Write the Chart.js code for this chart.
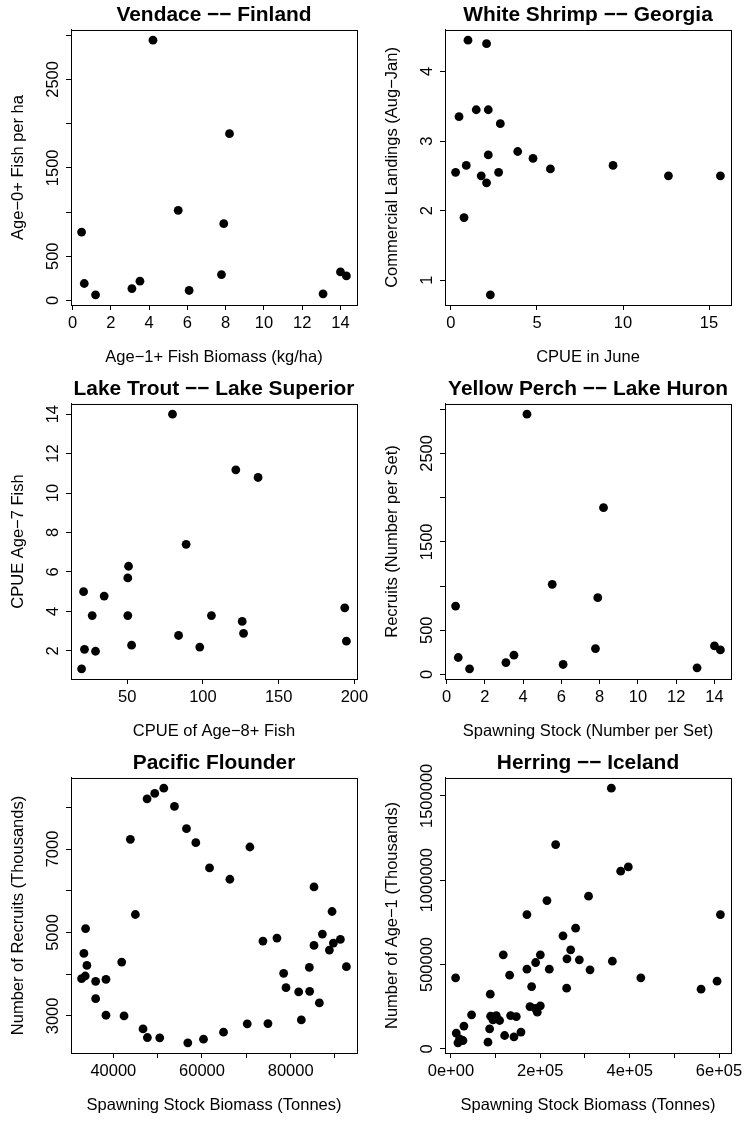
<!DOCTYPE html>
<html>
<head>
<meta charset="utf-8">
<script src="https://cdn.jsdelivr.net/npm/chart.js@4.4.0/dist/chart.umd.min.js"></script>
<style>
  html, body { margin: 0; padding: 0; background: #fff; }
  #page { position: relative; width: 747px; height: 1122px; }
  .cell { position: absolute; }
</style>
</head>
<body>
<div id="page"></div>
<script>
const MINUS = '\u2212'

// Vendace -- Finland
const vendaceBiomass = [0.47, 0.61, 1.2, 3.1, 3.52, 4.2, 5.52, 6.09, 7.78, 7.9, 8.2, 13.09, 14.0, 14.31]
const vendaceAge0 = [774, 192, 64, 135, 218, 2944, 1019, 113, 293, 868, 1887, 75, 323, 278]
const vendaceXTicks = [0, 2, 4, 6, 8, 10, 12, 14]
const vendaceXLabels = ['0', '2', '4', '6', '8', '10', '12', '14']
const vendaceYTicks = [0, 500, 1000, 1500, 2000, 2500, 3000]
const vendaceYLabels = ['0', '500', '', '1500', '', '2500', '']

// White Shrimp -- Georgia
const shrimpCpue = [0.27, 0.47, 0.99, 0.76, 0.89, 1.47, 1.76, 2.07, 2.07, 2.17, 2.17, 2.29, 2.77, 2.87, 3.88, 4.77, 5.78, 9.42, 12.64, 15.66]
const shrimpLandings = [2.55, 3.35, 4.45, 1.90, 2.65, 3.45, 2.50, 4.40, 2.40, 3.45, 2.80, 0.79, 2.55, 3.25, 2.85, 2.75, 2.60, 2.65, 2.50, 2.50]
const shrimpXTicks = [0, 5, 10, 15]
const shrimpXLabels = ['0', '5', '10', '15']
const shrimpYTicks = [1, 2, 3, 4]
const shrimpYLabels = ['1', '2', '3', '4']

// Lake Trout -- Lake Superior
const troutAge8 = [19.9, 21.2, 21.8, 26.9, 29.1, 34.8, 50.4, 50.4, 50.9, 52.9, 79.9, 83.9, 88.9, 97.9, 105.6, 121.7, 125.9, 126.8, 136.4, 193.6, 194.7]
const troutAge7 = [1.09, 5.0, 2.08, 3.79, 1.98, 4.78, 3.79, 5.70, 6.29, 2.29, 14.0, 2.78, 7.40, 2.19, 3.79, 11.18, 3.49, 2.89, 10.79, 4.18, 2.49]
const troutXTicks = [50, 100, 150, 200]
const troutXLabels = ['50', '100', '150', '200']
const troutYTicks = [2, 4, 6, 8, 10, 12, 14]
const troutYLabels = ['2', '4', '6', '8', '10', '12', '14']

// Yellow Perch -- Lake Huron
const perchStock = [0.47, 0.61, 1.2, 3.1, 3.52, 4.2, 5.52, 6.09, 7.78, 7.9, 8.2, 13.09, 14.0, 14.31]
const perchRecruits = [774, 192, 64, 135, 218, 2944, 1019, 113, 293, 868, 1887, 75, 323, 278]
const perchXTicks = [0, 2, 4, 6, 8, 10, 12, 14]
const perchXLabels = ['0', '2', '4', '6', '8', '10', '12', '14']
const perchYTicks = [0, 500, 1000, 1500, 2000, 2500, 3000]
const perchYLabels = ['0', '500', '', '1500', '', '2500', '']

// Pacific Flounder
const flounderSsb = [32840, 33660, 33360, 34040, 33740, 36010, 36010, 38340, 38340, 41890, 42420, 43840, 44970, 46700, 47610, 47680,
  49340, 50470, 51380, 53790, 56500, 56800, 58610, 60340, 61700, 64860, 66290, 70210, 70810, 73750, 74880, 76910,
  78420, 78950, 81810, 82410, 84220, 84290, 85270, 85270, 86480, 87160, 88740, 89340, 89640, 91220, 92580]
const flounderRecruits = [3892, 3956, 4497, 4210, 5094, 3828, 3414, 3876, 3016, 4291, 3000, 7231, 5430, 2689, 8203, 2482,
  8331, 2474, 8458, 8020, 7486, 2355, 7151, 2442, 6546, 2610, 6275, 2809, 7048, 4793, 2817, 4865,
  4020, 3677, 3574, 2904, 4163, 3590, 4689, 6092, 3311, 4960, 4578, 5502, 4745, 4833, 4179]
const flounderXTicks = [40000, 50000, 60000, 70000, 80000, 90000]
const flounderXLabels = ['40000', '', '60000', '', '80000', '']
const flounderYTicks = [3000, 4000, 5000, 6000, 7000, 8000]
const flounderYLabels = ['3000', '', '5000', '', '7000', '']

// Herring -- Iceland
const herringSsb = [10450, 11900, 15700, 19400, 26900, 29100, 46200, 82900, 86600, 88100, 88800, 94000, 101500, 109000, 117200, 120200,
  131400, 133600, 141100, 146300, 156800, 170100, 170100, 176900, 180600, 189000, 189600, 193300, 200100, 200100, 214900, 220200,
  234400, 250800, 259000, 259700, 268000, 279100, 287400, 308000, 311300, 359000, 361300, 379900, 397000, 425000, 559800, 595600, 603100]
const herringAge1 = [420900, 93100, 35600, 59300, 49200, 134600, 201600, 39500, 118600, 324300, 193800, 172000, 197400, 168000, 557300, 78900,
  436800, 197400, 71100, 191500, 99000, 796300, 472400, 250800, 369400, 240000, 511800, 217600, 254900, 557300, 879300, 472400,
  1211300, 670000, 359800, 533600, 587000, 715600, 527700, 905000, 468300, 1545800, 519900, 1053600, 1079000, 420900, 353700, 401300, 796300]
const herringXTicks = [0, 100000, 200000, 300000, 400000, 500000, 600000]
const herringXLabels = ['0e+00', '', '2e+05', '', '4e+05', '', '6e+05']
const herringYTicks = [0, 500000, 1000000, 1500000]
const herringYLabels = ['0', '500000', '1000000', '1500000']

const panels = [
  { title: 'Vendace ' + MINUS + MINUS + ' Finland', xTitle: 'Age' + MINUS + '1+ Fish Biomass (kg/ha)', yTitle: 'Age' + MINUS + '0+ Fish per ha',
    x: vendaceBiomass, y: vendaceAge0, xTicks: vendaceXTicks, xLabels: vendaceXLabels, yTicks: vendaceYTicks, yLabels: vendaceYLabels },
  { title: 'White Shrimp ' + MINUS + MINUS + ' Georgia', xTitle: 'CPUE in June', yTitle: 'Commercial Landings (Aug' + MINUS + 'Jan)',
    x: shrimpCpue, y: shrimpLandings, xTicks: shrimpXTicks, xLabels: shrimpXLabels, yTicks: shrimpYTicks, yLabels: shrimpYLabels },
  { title: 'Lake Trout ' + MINUS + MINUS + ' Lake Superior', xTitle: 'CPUE of Age' + MINUS + '8+ Fish', yTitle: 'CPUE Age' + MINUS + '7 Fish',
    x: troutAge8, y: troutAge7, xTicks: troutXTicks, xLabels: troutXLabels, yTicks: troutYTicks, yLabels: troutYLabels },
  { title: 'Yellow Perch ' + MINUS + MINUS + ' Lake Huron', xTitle: 'Spawning Stock (Number per Set)', yTitle: 'Recruits (Number per Set)',
    x: perchStock, y: perchRecruits, xTicks: perchXTicks, xLabels: perchXLabels, yTicks: perchYTicks, yLabels: perchYLabels },
  { title: 'Pacific Flounder', xTitle: 'Spawning Stock Biomass (Tonnes)', yTitle: 'Number of Recruits (Thousands)',
    x: flounderSsb, y: flounderRecruits, xTicks: flounderXTicks, xLabels: flounderXLabels, yTicks: flounderYTicks, yLabels: flounderYLabels },
  { title: 'Herring ' + MINUS + MINUS + ' Iceland', xTitle: 'Spawning Stock Biomass (Tonnes)', yTitle: 'Number of Age' + MINUS + '1 (Thousands)',
    x: herringSsb, y: herringAge1, xTicks: herringXTicks, xLabels: herringXLabels, yTicks: herringYTicks, yLabels: herringYLabels }
]

const FONT = '"Liberation Sans", Arial, Helvetica, sans-serif'
Chart.defaults.font.family = FONT
Chart.defaults.color = '#000'

// R pads the data range by 4% on each side
function rRange(v) {
  const lo = Math.min(...v), hi = Math.max(...v), d = (hi - lo) * 0.04
  return [lo - d, hi + d]
}

const page = document.getElementById('page')

panels.forEach((p, i) => {
  const col = i % 2, row = Math.floor(i / 2)
  const w = col === 0 ? 374 : 373
  const cell = document.createElement('div')
  cell.className = 'cell'
  cell.style.left = (col * 374) + 'px'
  cell.style.top = (row * 374) + 'px'
  const canvas = document.createElement('canvas')
  canvas.width = w
  canvas.height = 374
  canvas.style.width = w + 'px'
  canvas.style.height = '374px'
  cell.append(canvas)
  page.append(cell)

  const xr = rRange(p.x), yr = rRange(p.y)

  // box round the plot and rotated y tick labels, like base R
  const rFrame = {
    id: 'rFrame',
    afterDraw(chart) {
      const ctx = chart.ctx, ca = chart.chartArea, s = chart.scales.y
      ctx.save()
      ctx.strokeStyle = '#000'
      ctx.lineWidth = 1
      ctx.strokeRect(ca.left + 0.5, ca.top + 0.5, ca.right - ca.left, ca.bottom - ca.top)
      ctx.fillStyle = '#000'
      ctx.font = '16.5px ' + FONT
      ctx.textAlign = 'center'
      ctx.textBaseline = 'middle'
      p.yTicks.forEach((v, k) => {
        if (!p.yLabels[k]) return
        ctx.save()
        ctx.translate(ca.left - 17.7, s.getPixelForValue(v))
        ctx.rotate(-Math.PI / 2)
        ctx.fillText(p.yLabels[k], 0, 0)
        ctx.restore()
      })
      ctx.restore()
    }
  }

  new Chart(canvas, {
    type: 'scatter',
    data: {
      datasets: [{
        data: p.x.map((v, k) => ({ x: v, y: p.y[k] })),
        pointRadius: 4.4,
        pointHoverRadius: 4.4,
        pointBorderWidth: 0,
        pointBackgroundColor: '#000'
      }]
    },
    options: {
      responsive: false,
      animation: false,
      devicePixelRatio: 1,
      events: [],
      layout: { padding: { left: 0, right: w - 357, top: 0, bottom: 0 } },
      plugins: {
        legend: { display: false },
        tooltip: { enabled: false },
        title: {
          display: true,
          text: p.title,
          fullSize: false,
          color: '#000',
          font: { size: 20.9, weight: 'bold' },
          padding: { top: 3, bottom: 1.9 }
        }
      },
      scales: {
        x: {
          type: 'linear',
          position: 'bottom',
          min: xr[0],
          max: xr[1],
          afterBuildTicks: s => { s.ticks = p.xTicks.map(v => ({ value: v })) },
          afterFit: s => { s.height = 69 },
          ticks: {
            autoSkip: false,
            minRotation: 0,
            maxRotation: 0,
            padding: 3.2,
            color: '#000',
            font: { size: 16.5 },
            callback: (v, k) => p.xLabels[k]
          },
          grid: { drawOnChartArea: false, drawTicks: true, tickLength: 5, tickColor: '#000', tickWidth: 1 },
          border: { display: true, color: '#000', width: 1 },
          title: { display: true, text: p.xTitle, color: '#000', font: { size: 16.5 }, padding: { top: 0, bottom: 6.7 } }
        },
        y: {
          type: 'linear',
          position: 'left',
          min: yr[0],
          max: yr[1],
          afterBuildTicks: s => { s.ticks = p.yTicks.map(v => ({ value: v })) },
          afterFit: s => { s.width = 71 },
          ticks: { display: false },
          grid: { drawOnChartArea: false, drawTicks: true, tickLength: 5, tickColor: '#000', tickWidth: 1 },
          border: { display: true, color: '#000', width: 1 },
          title: { display: true, text: p.yTitle, color: '#000', font: { size: 16.5 }, padding: { top: 8.3, bottom: 0 } }
        }
      }
    },
    plugins: [rFrame]
  })
})
</script>
</body>
</html>
